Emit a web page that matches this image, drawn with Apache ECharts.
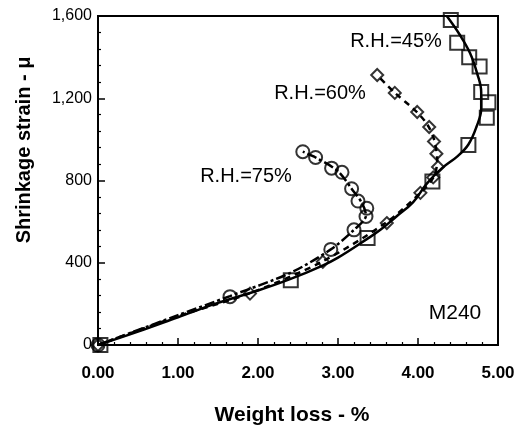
<!DOCTYPE html>
<html>
<head>
<meta charset="utf-8">
<script src="https://cdn.jsdelivr.net/npm/echarts@6/dist/echarts.min.js"></script>
<style>
  html, body { margin: 0; padding: 0; background: #fff; }
  #chart { width: 527px; height: 430px; }
</style>
</head>
<body>
<div id="chart"></div>
<script>
// weight loss (%) / shrinkage strain (micro)
var squares45 = [[0.03, 0], [2.41, 315], [3.37, 520], [4.18, 795], [4.63, 973], [4.86, 1105],
  [4.88, 1180], [4.79, 1230], [4.77, 1355], [4.64, 1400], [4.49, 1470], [4.41, 1580]]
var fit45 = [[0, 0], [0.5, 65], [1, 135], [1.5, 205], [2, 265], [2.4, 320], [2.8, 385], [3.0, 425],
  [3.36, 515], [3.53, 560], [3.73, 625], [3.94, 695], [4.11, 785], [4.3, 860], [4.5, 920],
  [4.63, 975], [4.73, 1060], [4.79, 1150], [4.79, 1230], [4.74, 1320], [4.65, 1420],
  [4.52, 1510], [4.36, 1600]]

var diamonds60 = [[0, 0], [1.9, 250], [2.81, 405], [3.61, 593], [4.03, 740], [4.19, 815],
  [4.25, 866], [4.23, 930], [4.2, 990], [4.14, 1060], [3.99, 1133], [3.71, 1226], [3.49, 1313]]
var dash60 = [[0, 0], [1, 140], [1.9, 252], [2.8, 405], [3.6, 595], [4.03, 740], [4.2, 820],
  [4.24, 900], [4.2, 1000], [4.12, 1070], [3.98, 1135], [3.7, 1230], [3.49, 1313]]

var circles75 = [[0, 0], [1.65, 235], [2.91, 465], [3.2, 560], [3.35, 625], [3.36, 665],
  [3.25, 700], [3.17, 760], [3.05, 840], [2.92, 860], [2.72, 912], [2.56, 940]]
var dash75 = [[0, 0], [1, 145], [1.65, 238], [2.4, 350], [2.91, 465], [3.2, 560], [3.35, 630],
  [3.3, 690], [3.17, 760], [3.0, 845], [2.72, 912], [2.56, 940]]

var xTicks = [0, 1, 2, 3, 4, 5]
var yTicks = [0, 400, 800, 1200, 1600]

var chart = echarts.init(document.getElementById('chart'))

var hollow = {
  color: 'rgba(255,255,255,0)',
  borderColor: '#000',
  borderWidth: 2
}
var font = '"Liberation Sans", Arial, sans-serif'

var option = {
  animation: false,
  backgroundColor: '#fff',
  grid: {
    left: 98,
    right: 29,
    top: 16,
    bottom: 85,
    show: true,
    borderColor: '#000',
    borderWidth: 2
  },
  xAxis: {
    type: 'value',
    min: xTicks[0],
    max: xTicks[xTicks.length - 1],
    interval: 1,
    axisLine: { lineStyle: { color: '#000', width: 2 } },
    axisTick: { inside: true, length: 7, lineStyle: { color: '#000', width: 1.5 } },
    minorTick: { show: true, splitNumber: 5, length: 3, lineStyle: { color: '#000', width: 1.2 } },
    splitLine: { show: false },
    axisLabel: {
      margin: 20,
      color: '#000',
      fontFamily: font,
      fontSize: 17,
      fontWeight: 'bold',
      formatter: function (v) { return v.toFixed(2) }
    }
  },
  yAxis: {
    type: 'value',
    min: yTicks[0],
    max: yTicks[yTicks.length - 1],
    interval: 400,
    axisLine: { lineStyle: { color: '#000', width: 2 } },
    axisTick: { inside: true, length: 7, lineStyle: { color: '#000', width: 1.5 } },
    minorTick: { show: true, splitNumber: 5, length: 3, lineStyle: { color: '#000', width: 1.2 } },
    splitLine: { show: false },
    axisLabel: {
      margin: 6,
      color: '#000',
      fontFamily: font,
      fontSize: 16,
      formatter: function (v) { return v.toLocaleString('en-US') }
    }
  },
  graphic: [
    { type: 'text', x: 292, y: 415, style: { text: 'Weight loss - %', fill: '#000', align: 'center',
      verticalAlign: 'middle', font: 'bold 21px ' + font } },
    { type: 'text', x: 24, y: 150, rotation: Math.PI / 2, style: { text: 'Shrinkage strain - \u03bc',
      fill: '#000', align: 'center', verticalAlign: 'middle', font: 'bold 20px ' + font } },
    { type: 'text', x: 396, y: 41, style: { text: 'R.H.=45%', fill: '#000', align: 'center',
      verticalAlign: 'middle', font: '20px ' + font } },
    { type: 'text', x: 320, y: 93, style: { text: 'R.H.=60%', fill: '#000', align: 'center',
      verticalAlign: 'middle', font: '20px ' + font } },
    { type: 'text', x: 246, y: 176, style: { text: 'R.H.=75%', fill: '#000', align: 'center',
      verticalAlign: 'middle', font: '20px ' + font } },
    { type: 'text', x: 455, y: 313, style: { text: 'M240', fill: '#000', align: 'center',
      verticalAlign: 'middle', font: '21px ' + font } }
  ],
  series: [
    {
      name: 'fit45', type: 'line', data: fit45, smooth: 0.4, symbol: 'none',
      lineStyle: { color: '#000', width: 2.5 }
    },
    {
      name: 'line60', type: 'line', data: dash60, smooth: 0.3, symbol: 'none',
      lineStyle: { color: '#000', width: 2.5, type: [6, 5] }
    },
    {
      name: 'line75', type: 'line', data: dash75, smooth: 0.3, symbol: 'none',
      lineStyle: { color: '#000', width: 2.5, type: [10, 3, 3, 3] }
    },
    {
      name: 'R.H.=45%', type: 'scatter', data: squares45, symbol: 'rect', symbolSize: 14,
      itemStyle: hollow
    },
    {
      name: 'R.H.=60%', type: 'scatter', data: diamonds60, symbol: 'diamond', symbolSize: 12,
      itemStyle: hollow
    },
    {
      name: 'R.H.=75%', type: 'scatter', data: circles75, symbol: 'circle', symbolSize: 13,
      itemStyle: hollow
    }
  ]
}

chart.setOption(option)
</script>
</body>
</html>
